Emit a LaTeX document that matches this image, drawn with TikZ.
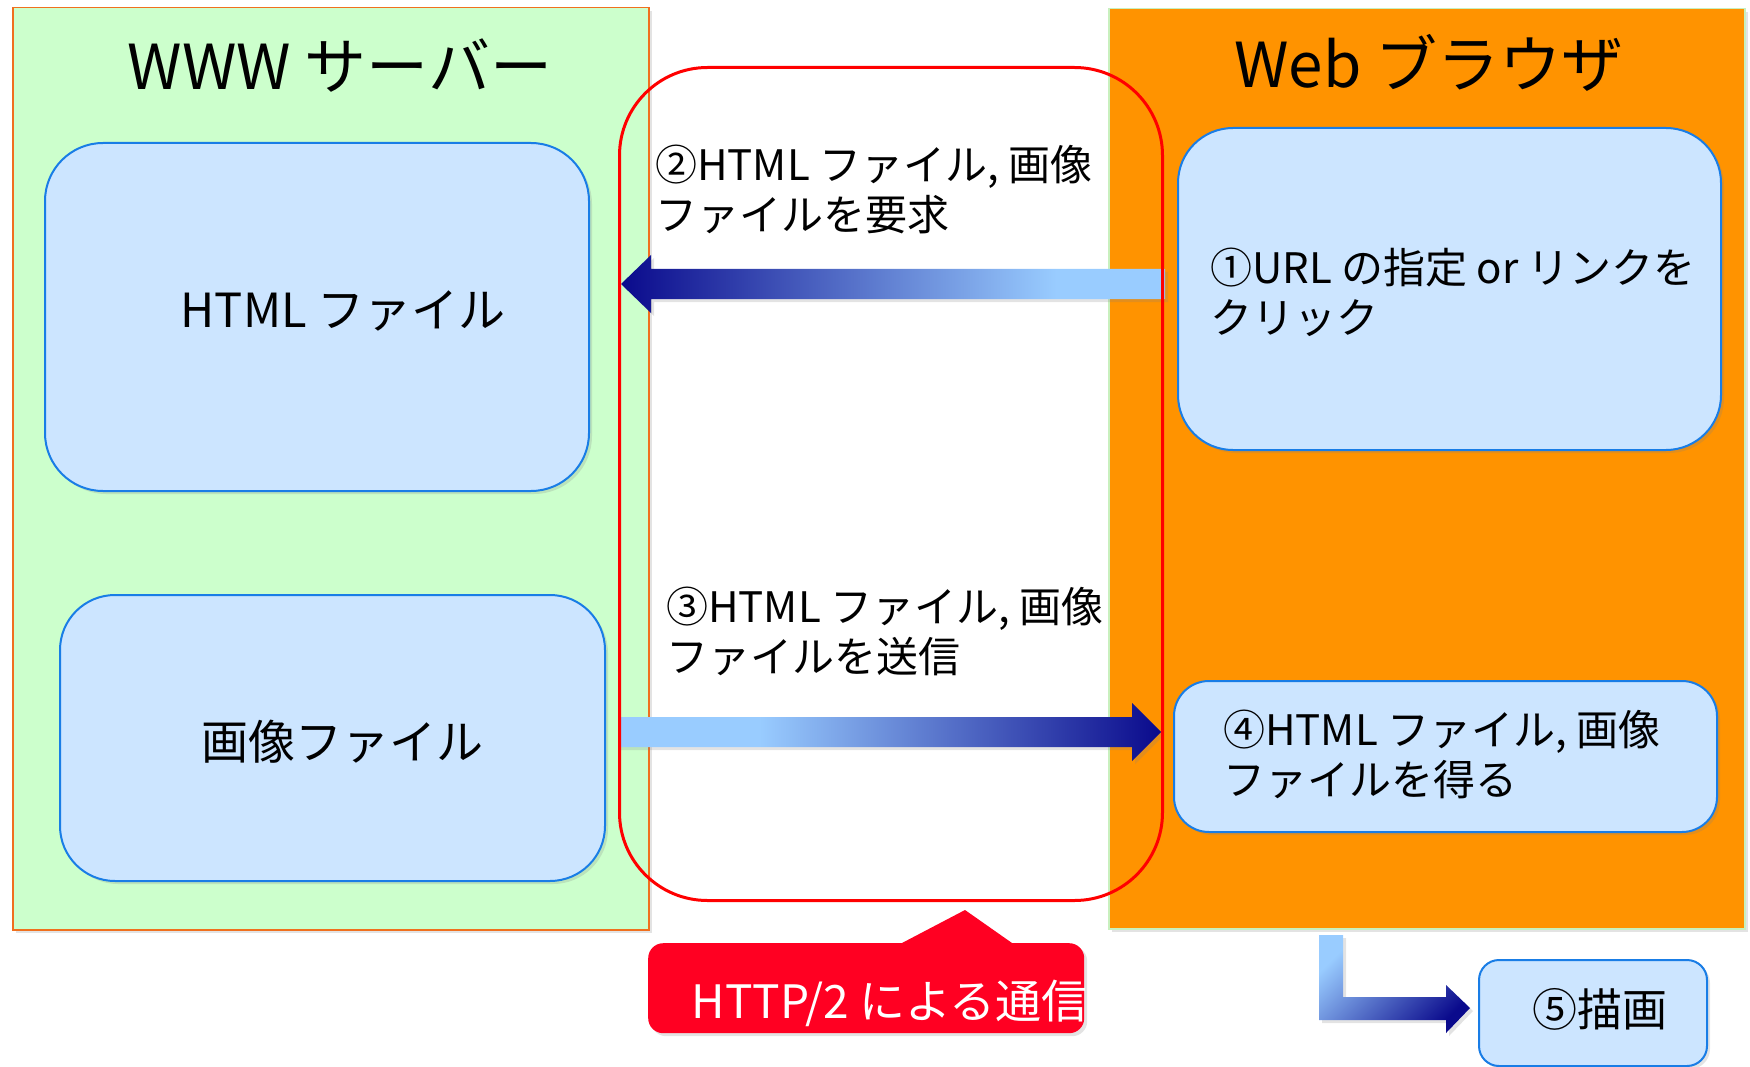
\documentclass[tikz,border=0pt]{standalone}
\usepackage{fontspec}
\newfontfamily\jpfont{Noto Sans CJK JP}
\usetikzlibrary{shadows,calc}
\definecolor{servergreen}{RGB}{204,255,204}
\definecolor{serverline}{RGB}{240,112,30}
\definecolor{browserorange}{RGB}{255,147,0}
\definecolor{browserline}{RGB}{200,240,190}
\definecolor{boxfill}{RGB}{204,229,255}
\definecolor{boxline}{RGB}{25,125,230}
\definecolor{arrowdark}{RGB}{10,10,140}
\definecolor{arrowlight}{RGB}{153,204,255}
\definecolor{calloutred}{RGB}{255,0,34}
\pgfdeclarehorizontalshading{reqfade}{100bp}{color(0bp)=(arrowdark); color(25bp)=(arrowdark); color(65bp)=(arrowlight); color(100bp)=(arrowlight)}
\pgfdeclarehorizontalshading{sendfade}{100bp}{color(0bp)=(arrowlight); color(25bp)=(arrowlight); color(38bp)=(arrowlight); color(75bp)=(arrowdark); color(100bp)=(arrowdark)}
\begin{document}
\begin{tikzpicture}[x=1pt, y=-1pt, font=\jpfont,
	softshadow/.style={drop shadow={opacity=.22, shadow xshift=3pt, shadow yshift=-3pt}},
	panel/.style={draw, line width=1.5pt, anchor=north west, inner sep=0pt, softshadow},
	filebox/.style={draw=boxline, fill=boxfill, line width=2pt, anchor=north west, inner sep=0pt, softshadow},
	titletext/.style={font=\jpfont\fontsize{62}{74}\selectfont, anchor=base},
	boxtext/.style={font=\jpfont\fontsize{47}{56}\selectfont, anchor=base},
	notetext/.style={font=\jpfont\fontsize{42}{50}\selectfont, align=left, anchor=north west, inner sep=0pt}]
	\useasboundingbox (0,0) rectangle (1750,1067);
	%panels
	\node[panel, fill=servergreen, draw=serverline, minimum width=636pt, minimum height=922pt] (server) at (12,7) {};
	\node[panel, fill=browserorange, draw=browserline, minimum width=636pt, minimum height=920pt] (browser) at (1108,8) {};
	\node[titletext] (server title) at (340,90) {WWW サーバー};
	\node[titletext] (browser title) at (1429,88) {Web ブラウザ};
	%boxes
	\node[filebox, rounded corners=58pt, minimum width=544pt, minimum height=348pt] (html file) at (44,142) {};
	\node[filebox, rounded corners=55pt, minimum width=545pt, minimum height=286pt] (image file) at (59,594) {};
	\node[filebox, rounded corners=55pt, minimum width=543pt, minimum height=322pt] (url box) at (1177,127) {};
	\node[filebox, rounded corners=35pt, minimum width=543pt, minimum height=151pt] (get box) at (1173,680) {};
	\node[filebox, rounded corners=20pt, minimum width=228pt, minimum height=106pt] (draw box) at (1478,959) {};
	\node[boxtext] (html label) at (343,327) {HTML ファイル};
	\node[boxtext] (image label) at (342,759) {画像ファイル};
	\node[boxtext, font=\jpfont\fontsize{45}{54}\selectfont] (draw label) at (1600,1026) {⑤描画};
	%arrows
	\coordinate (request tail) at (1165,284);
	\coordinate (request tip) at (621,284);
	\shade[softshadow, shading=reqfade] (request tip) -- ++(30,-29) -- ++(0,14)
		-- ($(request tail)+(0,-15)$) -- ($(request tail)+(0,15)$)
		-- ($(request tip)+(30,15)$) -- ++(0,14) -- cycle;
	\coordinate (send tail) at (618,732);
	\coordinate (send tip) at (1161,732);
	\shade[softshadow, shading=sendfade] (send tip) -- ++(-29,-29) -- ++(0,14)
		-- ($(send tail)+(0,-15)$) -- ($(send tail)+(0,15)$)
		-- ($(send tip)+(-29,15)$) -- ++(0,14) -- cycle;
	\coordinate (render tail) at (1331,935);
	\coordinate (render tip) at (1470,1008);
	\shade[softshadow, top color=arrowlight, bottom color=arrowdark, shading angle=45]
		($(render tail)+(-12,0)$) -- ++(24,0) |- ($(render tip)+(-24,-11)$) -- ++(0,-12)
		-- (render tip) -- ++(-24,25) -- ++(0,-13) -- ($(render tail)+(-12,85)$) -- cycle;
	%http/2
	\node[draw=red, line width=3pt, rounded corners=88pt, minimum width=543pt, minimum height=833pt,
		anchor=north west, inner sep=0pt] (http area) at (618,66) {};
	%notes
	\node[notetext] (request note) at (655,145) {②HTML ファイル, 画像\\ファイルを要求};
	\node[notetext] (send note) at (666,587) {③HTML ファイル, 画像\\ファイルを送信};
	\node[notetext] (url note) at (1210,248) {①URL の指定 or リンクを\\クリック};
	\node[notetext] (get note) at (1223,710) {④HTML ファイル, 画像\\ファイルを得る};
	%callout
	\coordinate (callout corner) at (648,943);
	\fill[calloutred, softshadow] ($(callout corner)+(254,0)$) -- ($(callout corner)+(317,-33)$)
		-- ($(callout corner)+(364,0)$) -- cycle;
	\node[fill=calloutred, rounded corners=15pt, minimum width=436pt, minimum height=90pt,
		inner sep=0pt, anchor=north west, softshadow] (callout) at (callout corner) {};
	\begin{scope}
		\clip[rounded corners=15pt] (callout.north west) rectangle (callout.south east);
		\node[text=white, font=\jpfont\fontsize{46}{55}\selectfont, anchor=base west] (callout text) at (688,1018) {HTTP/2 による通信};
	\end{scope}
\end{tikzpicture}
\end{document}
